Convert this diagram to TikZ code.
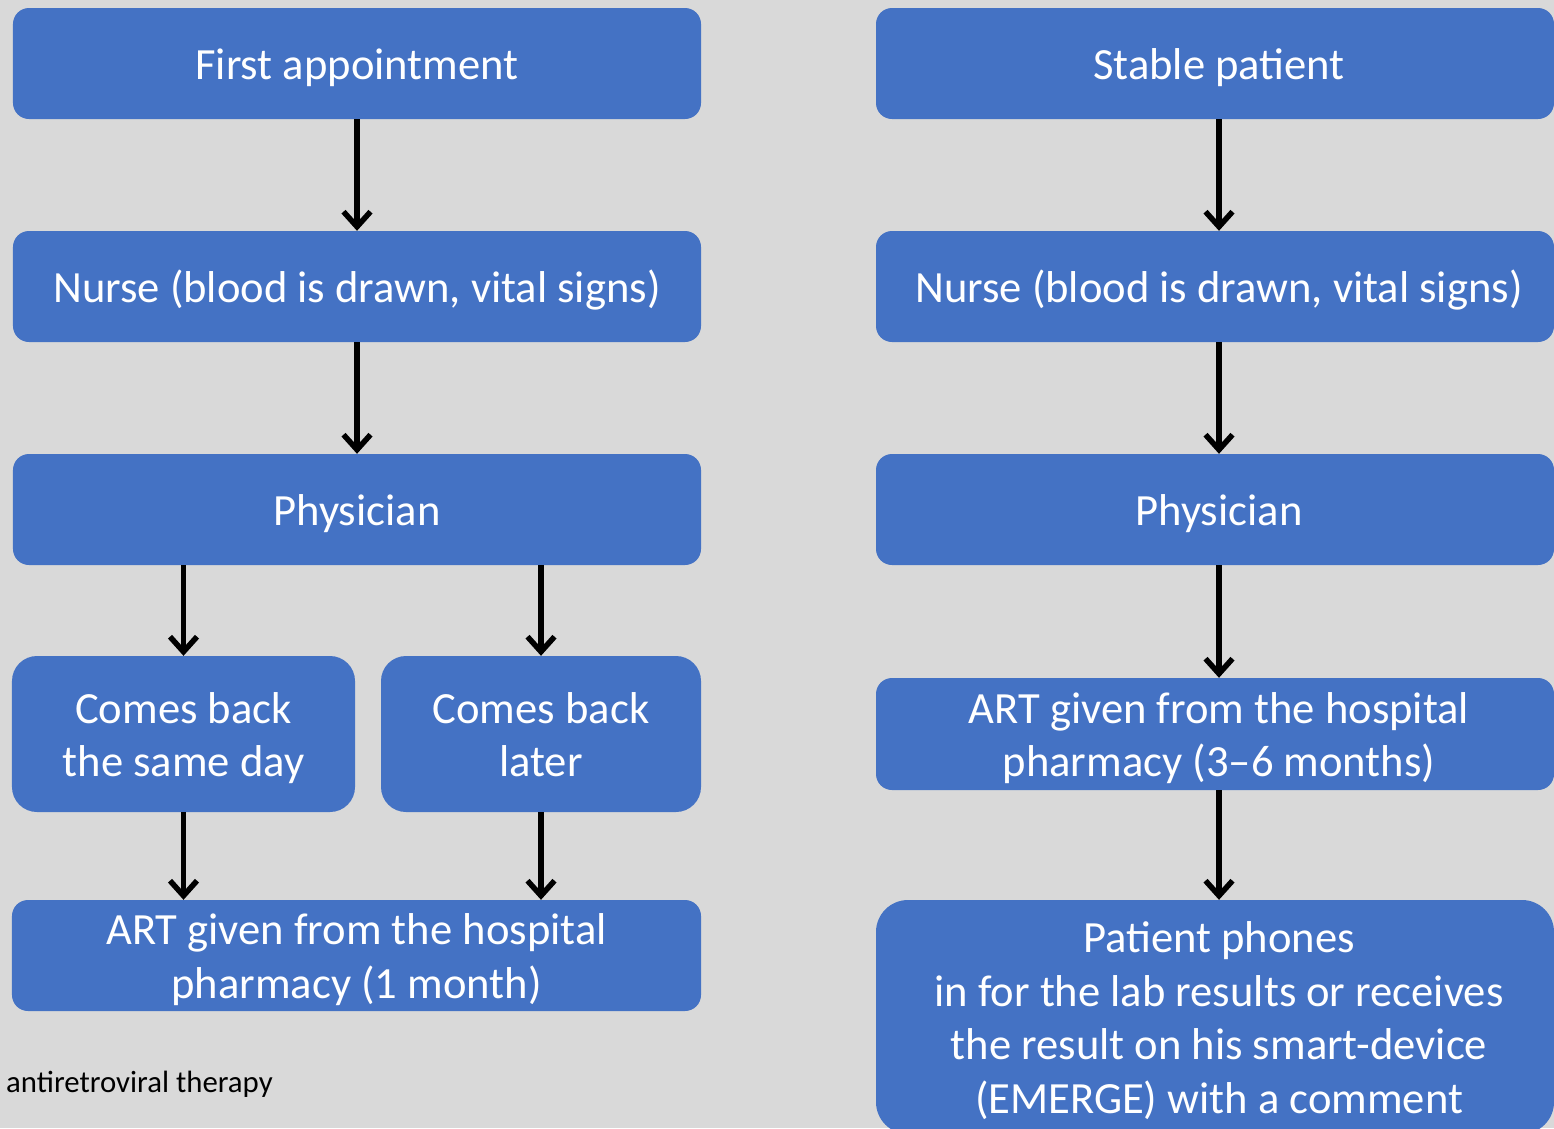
\documentclass[tikz,border=0pt]{standalone}
\usepackage{fontspec}
\setmainfont{Carlito}
\usetikzlibrary{arrows.meta,calc}
\definecolor{boxblue}{HTML}{4472C4}
\definecolor{bgc}{HTML}{D9D9D9}
\begin{document}
\begin{tikzpicture}[x=1bp,y=-1bp,
  box/.style={fill=boxblue, rounded corners=16bp, text=white, align=center,
    inner sep=0pt, text height=32bp, text depth=0pt,
    font=\fontsize{44.6bp}{53.5bp}\selectfont},
  twoline/.style={text height=85.5bp},
  fourline/.style={text height=192bp},
  arr/.style={line width=5.5bp, -{Straight Barb[length=15bp,width=27bp]}},
  note/.style={font=\fontsize{30.8bp}{36bp}\selectfont, text=black, inner sep=0pt}]
\useasboundingbox[fill=bgc] (0,0) rectangle (1554,1128);
\clip (0,0) rectangle (1554,1128);

% left column
\node[box, minimum width=688bp, minimum height=111bp] (L1) at (357,63.5) {First appointment};
\node[box, minimum width=688bp, minimum height=111bp] (L2) at (357,286.5) {Nurse (blood is drawn, vital signs)};
\node[box, minimum width=688bp, minimum height=111bp] (L3) at (357,509.5) {Physician};
\node[box, twoline, rounded corners=25bp, minimum width=343bp, minimum height=156bp] (LS1) at (183.5,734) {Comes back\\the same day};
\node[box, twoline, rounded corners=25bp, minimum width=320bp, minimum height=156bp] (LS2) at (541,734) {Comes back\\later};
\node[box, twoline, minimum width=689bp, minimum height=111bp] (L4) at (356.5,955.5) {ART given from the hospital\\pharmacy (1 month)};

% right column
\node[box, minimum width=678bp, minimum height=111bp] (R1) at (1215,63.5) {\hspace*{8bp}Stable patient};
\node[box, minimum width=678bp, minimum height=111bp] (R2) at (1215,286.5) {\hspace*{8bp}Nurse (blood is drawn, vital signs)};
\node[box, minimum width=678bp, minimum height=111bp] (R3) at (1215,509.5) {\hspace*{8bp}Physician};
\node[box, twoline, minimum width=678bp, minimum height=112bp] (R4) at (1215,734) {\hspace*{8bp}ART given from the hospital\\\hspace*{8bp}pharmacy (3–6 months)};
\node[box, fourline, rounded corners=32bp, minimum width=678bp, minimum height=234bp] (R5) at (1215,1017) {\hspace*{8bp}Patient phones\\\hspace*{8bp}in for the lab results or receives\\\hspace*{8bp}the result on his smart-device\\\hspace*{8bp}(EMERGE) with a comment};

% footnote
\node[note, anchor=base west] (fn) at (6,1092) {antiretroviral therapy};

% arrows left
\draw[arr] (L1.south) -- (L2.north);
\draw[arr] (L2.south) -- (L3.north);
\draw[arr] (LS1.north |- L3.south) -- (LS1.north);
\draw[arr] (LS2.north |- L3.south) -- (LS2.north);
\draw[arr] (LS1.south) -- (LS1.south |- L4.north);
\draw[arr] (LS2.south) -- (LS2.south |- L4.north);

% arrows right
\draw[arr] ([xshift=4bp]R1.south) -- ([xshift=4bp]R2.north);
\draw[arr] ([xshift=4bp]R2.south) -- ([xshift=4bp]R3.north);
\draw[arr] ([xshift=4bp]R3.south) -- ([xshift=4bp]R4.north);
\draw[arr] ([xshift=4bp]R4.south) -- ([xshift=4bp]R5.north);
\end{tikzpicture}
\end{document}
